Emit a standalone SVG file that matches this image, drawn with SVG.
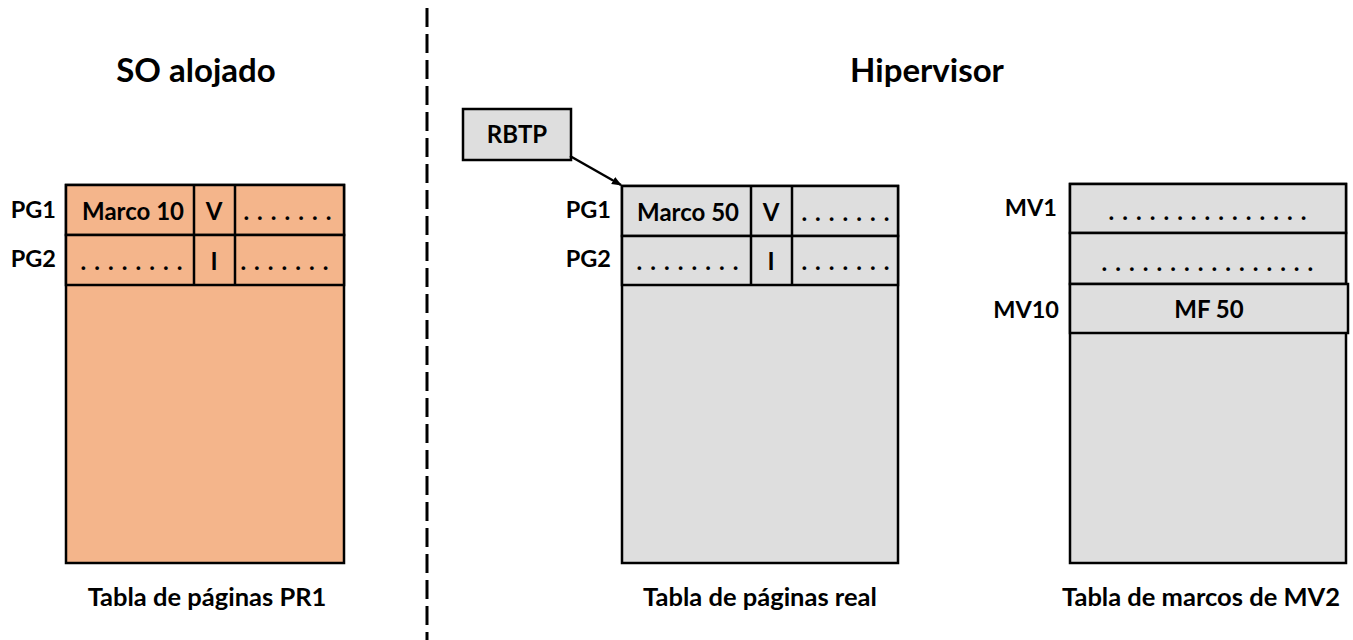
<svg xmlns="http://www.w3.org/2000/svg" width="1353" height="640" viewBox="0 0 1353 640">
  <defs>
    <style>
      text { font-family: Lato, "Open Sans", "Liberation Sans", sans-serif; font-weight: bold; fill: #000; }
      .title { font-size: 33px; text-anchor: middle; }
      .cap { font-size: 25.5px; text-anchor: middle; }
      .lbl { font-size: 23.5px; text-anchor: end; }
      .cell { font-size: 24px; text-anchor: middle; }
      .dots { font-size: 24px; text-anchor: middle; letter-spacing: 1.1px; }
      .box { stroke: #000; stroke-width: 2.5; }
      .guest { fill: #F4B58B; }
      .host { fill: #DEDEDE; }
      .sep { stroke: #000; stroke-width: 3; stroke-dasharray: 19 7; fill: none; }
      .conn { stroke: #000; stroke-width: 2.5; fill: none; }
    </style>
    <marker id="arrow" markerWidth="10" markerHeight="10" refX="9" refY="5" orient="auto" markerUnits="userSpaceOnUse">
      <path d="M0,1 L10,5 L0,9 Z" fill="#000"/>
    </marker>
  </defs>

  <rect width="1353" height="640" fill="#fff"/>

  <!-- divider between guest and hypervisor -->
  <line class="sep" x1="427" y1="8" x2="427" y2="640"/>

  <text class="title" x="196" y="82">SO alojado</text>
  <text class="title" x="927" y="82">Hipervisor</text>

  <!-- guest page table -->
  <g id="guest-table">
    <rect class="box guest" x="66" y="185" width="278" height="378"/>
    <rect class="box guest" x="66" y="185" width="278" height="50"/>
    <rect class="box guest" x="66" y="235" width="278" height="50"/>
    <line class="box" x1="194" y1="185" x2="194" y2="285"/>
    <line class="box" x1="235" y1="185" x2="235" y2="285"/>
    <text class="lbl" x="56" y="218">PG1</text>
    <text class="lbl" x="56" y="267">PG2</text>
    <text class="cell" x="133" y="220">Marco 10</text>
    <text class="cell" x="214" y="220">V</text>
    <text class="dots" x="288" y="220">. . . . . . .</text>
    <text class="dots" x="132" y="270">. . . . . . . .</text>
    <text class="cell" x="214" y="270">I</text>
    <text class="dots" x="285" y="270">. . . . . . .</text>
    <text class="cap" x="207" y="606">Tabla de páginas PR1</text>
  </g>

  <!-- RBTP register -->
  <g id="rbtp">
    <rect class="box host" x="463" y="109" width="108" height="51"/>
    <text class="cell" x="517" y="143">RBTP</text>
  </g>

  <!-- real page table -->
  <g id="real-table">
    <rect class="box host" x="622" y="186" width="276" height="377"/>
    <rect class="box host" x="622" y="186" width="276" height="50"/>
    <rect class="box host" x="622" y="236" width="276" height="49"/>
    <line class="box" x1="751" y1="186" x2="751" y2="285"/>
    <line class="box" x1="792" y1="186" x2="792" y2="285"/>
    <text class="lbl" x="611" y="218">PG1</text>
    <text class="lbl" x="611" y="267">PG2</text>
    <text class="cell" x="688" y="221">Marco 50</text>
    <text class="cell" x="771" y="221">V</text>
    <text class="dots" x="846" y="221">. . . . . . .</text>
    <text class="dots" x="688" y="270">. . . . . . . .</text>
    <text class="cell" x="771" y="270">I</text>
    <text class="dots" x="846" y="270">. . . . . . .</text>
    <text class="cap" x="760" y="606">Tabla de páginas real</text>
  </g>

  <!-- frame table of MV2 -->
  <g id="frame-table">
    <rect class="box host" x="1070" y="184" width="276" height="379"/>
    <rect class="box host" x="1070" y="184" width="276" height="49"/>
    <rect class="box host" x="1070" y="233" width="276" height="51"/>
    <rect class="box host" x="1070" y="284" width="278" height="49"/>
    <text class="lbl" x="1057" y="216">MV1</text>
    <text class="lbl" x="1059" y="318">MV10</text>
    <text class="dots" x="1208" y="220">. . . . . . . . . . . . . . .</text>
    <text class="dots" x="1208" y="271">. . . . . . . . . . . . . . . .</text>
    <text class="cell" x="1209" y="318">MF 50</text>
    <text class="cap" x="1201" y="606">Tabla de marcos de MV2</text>
  </g>

  <g id="connectors">
    <line class="conn" x1="570" y1="156" x2="621" y2="185" marker-end="url(#arrow)"/>
  </g>
</svg>
